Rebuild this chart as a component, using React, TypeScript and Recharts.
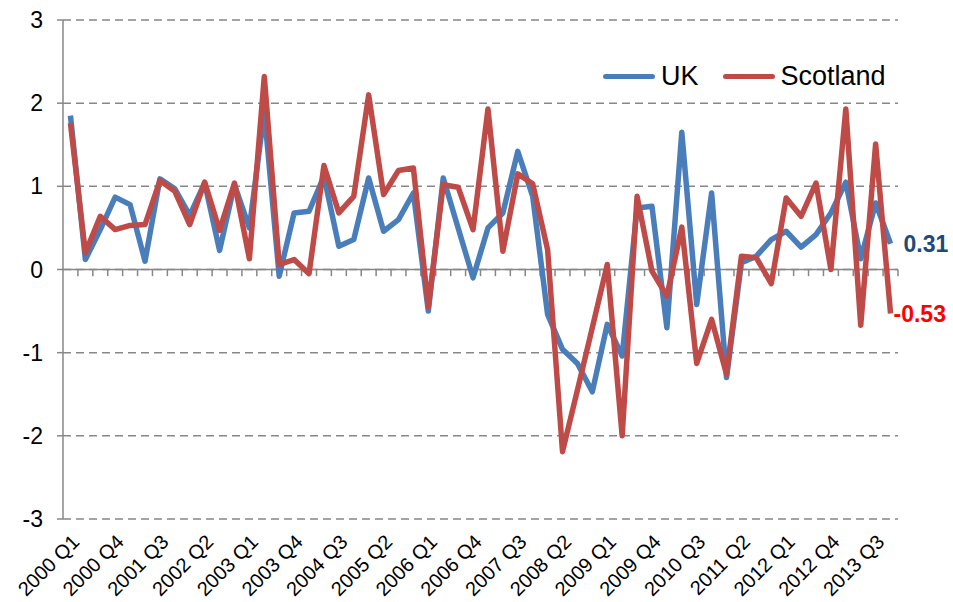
import {
  CartesianGrid,
  Line,
  LineChart,
  ReferenceLine,
  XAxis,
  YAxis,
} from "recharts";

const quarters: string[] = [];
for (let y = 2000; y <= 2013; y++) {
  for (let q = 1; q <= 4; q++) quarters.push(`${y} Q${q}`);
}

const ukValues = [
  1.85, 0.12, 0.48, 0.87, 0.78, 0.1, 1.09, 0.97, 0.65, 1.04,
  0.23, 1.02, 0.5, 1.9, -0.08, 0.68, 0.7, 1.12, 0.28, 0.36,
  1.1, 0.46, 0.6, 0.92, -0.5, 1.1, 0.5, -0.1, 0.5, 0.68,
  1.42, 0.88, -0.54, -0.96, -1.13, -1.47, -0.66, -1.04, 0.74, 0.76,
  -0.7, 1.65, -0.42, 0.92, -1.3, 0.08, 0.16, 0.36, 0.46, 0.27,
  0.42, 0.68, 1.05, 0.13, 0.8, 0.31,
];

const scotlandValues = [
  1.76, 0.2, 0.64, 0.48, 0.53, 0.54, 1.07, 0.94, 0.54, 1.05,
  0.47, 1.04, 0.13, 2.32, 0.06, 0.12, -0.05, 1.25, 0.68, 0.88,
  2.1, 0.9, 1.19, 1.22, -0.45, 1.02, 0.99, 0.48, 1.93, 0.22,
  1.15, 1.03, 0.24, -2.19, -1.45, -0.7, 0.06, -2.0, 0.88, -0.02,
  -0.32, 0.51, -1.13, -0.6, -1.26, 0.16, 0.14, -0.17, 0.86, 0.64,
  1.04, 0.0, 1.93, -0.67, 1.51, -0.53,
];

const seriesNames = ["UK", "Scotland"];

const yTicks = [-3, -2, -1, 0, 1, 2, 3];
const xTicks = quarters.map((_, i) => i).filter((i) => i % 3 === 0 && i <= 54);
const boundaries = quarters.map((_, i) => i + 0.5);

const data = quarters.map((label, i) => ({
  idx: i,
  label,
  uk: ukValues[i],
  scotland: scotlandValues[i],
}));

const BLUE = "#4A7EBB";
const RED = "#BE4B48";
const GRID = "#878787";
const FONT = "'Liberation Sans', Arial, sans-serif";

function endLabel(color: string, dx: number) {
  return (props: any) => {
    const { x, y, index, value } = props;
    if (index !== data.length - 1) return null;
    return (
      <text
        x={x + dx}
        y={y}
        dy="0.36em"
        fill={color}
        fontSize={23}
        fontWeight="bold"
        fontFamily={FONT}
      >
        {value.toFixed(2)}
      </text>
    );
  };
}

// legend drawn as a plain overlay so the plot keeps its full height
function LegendOverlay() {
  const colors = [BLUE, RED];
  return (
    <div
      style={{
        position: "absolute",
        left: 603,
        top: 61,
        display: "flex",
        alignItems: "center",
        fontFamily: FONT,
        fontSize: 27,
        color: "#000",
      }}
    >
      {seriesNames.map((name, i) => (
        <div key={name} style={{ display: "flex", alignItems: "center", marginRight: 24 }}>
          <div
            style={{
              width: 52,
              height: 5,
              borderRadius: 3,
              background: colors[i],
              marginRight: 6,
            }}
          />
          <span>{name}</span>
        </div>
      ))}
    </div>
  );
}

export default function App() {
  return (
    <div style={{ position: "absolute", left: 0, top: 0, width: 953, height: 602, background: "#fff" }}>
      <LineChart
        width={953}
        height={602}
        data={data}
        margin={{ top: 20, right: 55, left: 0, bottom: 0 }}
      >
        <CartesianGrid
          vertical={false}
          stroke={GRID}
          strokeWidth={1.5}
          strokeDasharray="8 5"
        />
        <XAxis
          dataKey="idx"
          type="number"
          domain={[-0.5, 55.5]}
          ticks={xTicks}
          tickFormatter={(v: number) => quarters[v]}
          interval={0}
          axisLine={false}
          tickLine={false}
          angle={-45}
          textAnchor="end"
          height={83}
          tickMargin={8}
          tick={{ fill: "#000", fontSize: 20, fontFamily: FONT }}
        />
        <YAxis
          domain={[-3, 3]}
          ticks={yTicks}
          width={63}
          axisLine={{ stroke: GRID, strokeWidth: 1.5 }}
          tickLine={{ stroke: GRID, strokeWidth: 1.5 }}
          tickSize={6}
          tickMargin={14}
          tick={{ fill: "#000", fontSize: 23, fontFamily: FONT }}
        />
        <ReferenceLine y={0} stroke={GRID} strokeWidth={1.5} />
        {boundaries.map((b) => (
          <ReferenceLine
            key={b}
            segment={[
              { x: b, y: 0 },
              { x: b, y: -0.08 },
            ]}
            stroke={GRID}
            strokeWidth={1.5}
          />
        ))}
        <Line
          type="linear"
          dataKey="uk"
          name={seriesNames[0]}
          stroke={BLUE}
          strokeWidth={5.5}
          strokeLinejoin="round"
          dot={false}
          activeDot={false}
          isAnimationActive={false}
          label={endLabel("#1F497D", 13)}
        />
        <Line
          type="linear"
          dataKey="scotland"
          name={seriesNames[1]}
          stroke={RED}
          strokeWidth={5.5}
          strokeLinejoin="round"
          dot={false}
          activeDot={false}
          isAnimationActive={false}
          label={endLabel("#FF0000", 3)}
        />
      </LineChart>
      <LegendOverlay />
    </div>
  );
}
